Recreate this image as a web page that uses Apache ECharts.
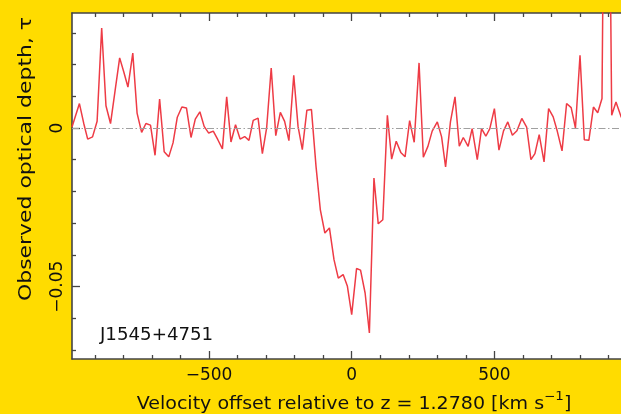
<!DOCTYPE html>
<html><head><meta charset="utf-8">
<script src="https://cdn.jsdelivr.net/npm/echarts@6/dist/echarts.min.js"></script>
<style>html,body{margin:0;padding:0;background:#FFDC00;} #c{width:621px;height:414px;}</style>
</head><body><div id="c"></div>
<script>
// Velocity offset (km/s) of each channel
const velocity = [-980,-954,-939,-925,-908,-892,-876,-861,-845,-829,-813,-798,-784,-767,-752,-736,-721,-705,-689,-673,-657,-641,-626,-611,-595,-579,-563,-548,-532,-517,-501,-485,-469,-453,-438,-423,-407,-391,-375,-360,-345,-328,-313,-298,-282,-266,-250,-235,-220,-203,-188,-173,-157,-141,-125,-110,-94,-78,-62,-47,-30,-15,0,17,31,47,62,78,93,109,125,140,156,172,187,203,219,236,251,267,282,300,315,329,346,362,377,391,408,422,440,455,470,484,500,516,532,547,563,579,596,613,628,642,657,674,690,706,720,737,753,769,784,800,815,831,847,862,877,893,911,926,944,960];
// Observed optical depth
const tau = [0.0003,0.0077,0.0015,-0.0035,-0.0028,0.0021,0.0315,0.0070,0.0014,0.0118,0.0221,0.0175,0.0129,0.0236,0.0047,-0.0014,0.0014,0.0009,-0.0086,0.0091,-0.0075,-0.0091,-0.0047,0.0034,0.0066,0.0063,-0.0030,0.0028,0.0051,0.0005,-0.0016,-0.0010,-0.0037,-0.0066,0.0098,-0.0044,0.0010,-0.0035,-0.0027,-0.0039,0.0024,0.0031,-0.0081,0.0000,0.0189,-0.0024,0.0049,0.0021,-0.0040,0.0166,0.0005,-0.0068,0.0056,0.0058,-0.0121,-0.0257,-0.0331,-0.0315,-0.0415,-0.0473,-0.0462,-0.0499,-0.0588,-0.0443,-0.0448,-0.0520,-0.0646,-0.0158,-0.0302,-0.0289,0.0040,-0.0098,-0.0042,-0.0077,-0.0091,0.0023,-0.0045,0.0205,-0.0092,-0.0058,-0.0010,0.0019,-0.0028,-0.0123,0.0019,0.0098,-0.0057,-0.0030,-0.0058,-0.0002,-0.0100,-0.0002,-0.0026,-0.0002,0.0061,-0.0070,-0.0009,0.0019,-0.0023,-0.0009,0.0030,0.0003,-0.0100,-0.0081,-0.0021,-0.0107,0.0061,0.0035,-0.0009,-0.0072,0.0077,0.0064,0.0000,0.0229,-0.0037,-0.0039,0.0066,0.0048,0.0093,0.1800,0.0040,0.0082,0.0035,0.0020];
// Ticks
const xMajorTicks = [-500, 0, 500];
const xMinorTicks = [-900,-800,-700,-600,-400,-300,-200,-100,100,200,300,400,600,700,800,900];
const yMajorTicks = [-0.05, 0];
const yMinorTicks = [-0.07,-0.06,-0.04,-0.03,-0.02,-0.01,0.01,0.02,0.03];
const xRange = [-980, 943.6];
const yRange = [-0.0728, 0.03623];
const objectName = 'J1545+4751';

const FONT = '"DejaVu Sans", sans-serif';
const AX = '#444';
const fmt = v => (v < 0 ? '\u2212' + String(Math.abs(Math.round(v*1000)/1000)) : String(v));

function xAx(pos, major) {
  return {
    type: 'value', position: pos, min: xRange[0], max: xRange[1],
    axisLine: { show: major, onZero: false, lineStyle: { color: AX, width: 1.6 } },
    axisTick: { show: true, inside: true, length: major ? 8 : 4, customValues: major ? xMajorTicks : xMinorTicks, lineStyle: { color: AX, width: 1.3 } },
    axisLabel: { show: major && pos === 'bottom', customValues: xMajorTicks, formatter: fmt, fontSize: 17, color: '#111', fontFamily: FONT, margin: 8 },
    splitLine: { show: false }
  };
}
function yAx(major) {
  return {
    type: 'value', position: 'left', min: yRange[0], max: yRange[1],
    axisLine: { show: major, onZero: false, lineStyle: { color: AX, width: 1.6 } },
    axisTick: { show: true, inside: true, length: major ? 8 : 4, customValues: major ? yMajorTicks : yMinorTicks, lineStyle: { color: AX, width: 1.3 } },
    axisLabel: { show: major, customValues: yMajorTicks, formatter: fmt, rotate: 90, fontSize: 17, color: '#111', fontFamily: FONT, margin: 6 },
    splitLine: { show: false }
  };
}

const chart = echarts.init(document.getElementById('c'), null, { renderer: 'canvas' });
chart.setOption({
  backgroundColor: '#FFDC00',
  animation: false,
  grid: { left: 72, top: 13, right: 0, bottom: 55, show: true, backgroundColor: '#fff', borderWidth: 0 },
  xAxis: [xAx('bottom', true), xAx('bottom', false), xAx('top', true), xAx('top', false)],
  yAxis: [yAx(true), yAx(false)],
  series: [{
    type: 'line', xAxisIndex: 0, yAxisIndex: 0,
    data: velocity.map((v, i) => [v, tau[i]]),
    showSymbol: false, clip: true,
    lineStyle: { color: '#EE3B45', width: 1.5 },
    markLine: {
      silent: true, symbol: 'none', label: { show: false },
      lineStyle: { color: '#a0a0a0', width: 1.2, type: [7, 2.5, 1.5, 2.5] },
      data: [{ yAxis: 0 }]
    }
  }],
  graphic: [
    { type: 'text', x: 354, y: 402, scaleX: 1.12, style: { text: '{n|Velocity offset relative to z = 1.2780 [km s}{s|\u22121}{n|]}', align: 'center', verticalAlign: 'middle', textAlign: 'center', textVerticalAlign: 'middle', fill: '#111', font: '17px ' + FONT,
      rich: { n: { fontSize: 17, fontFamily: FONT, fill: '#111', color: '#111', lineHeight: 22, verticalAlign: 'bottom' }, s: { fontSize: 12, fontFamily: FONT, fill: '#111', color: '#111', lineHeight: 22, verticalAlign: 'top' } } } },
    { type: 'text', x: 27, y: 159, rotation: Math.PI / 2, scaleX: 1.29, style: { text: 'Observed optical depth, \u03c4', align: 'center', verticalAlign: 'middle', textAlign: 'center', textVerticalAlign: 'middle', fill: '#111', font: '17px ' + FONT } },
    { type: 'text', x: 100, y: 336, scaleX: 1.07, style: { text: objectName, align: 'left', verticalAlign: 'middle', textAlign: 'left', textVerticalAlign: 'middle', fill: '#111', font: '17px ' + FONT } }
  ]
});
</script></body></html>
